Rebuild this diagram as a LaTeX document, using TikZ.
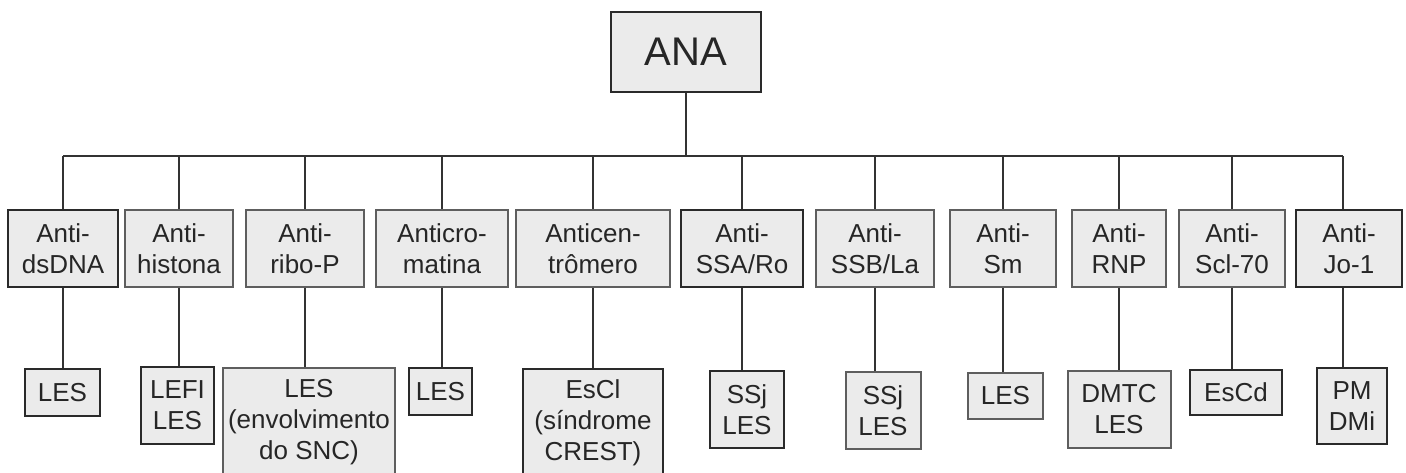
\documentclass[tikz,border=0pt]{standalone}
\usepackage{fontspec}
\setmainfont{Liberation Sans}
\usetikzlibrary{calc}
\definecolor{boxfill}{HTML}{EBEBEB}
\definecolor{edgedark}{HTML}{2A2A2A}
\definecolor{edgelight}{HTML}{5E5E5E}
\definecolor{inkgray}{HTML}{262626}
\definecolor{wiregray}{HTML}{333333}
\tikzset{
  box/.style={rectangle, fill=boxfill, draw=edgelight, line width=2pt,
    inner sep=0pt, align=center, text=inkgray,
    font=\fontsize{26}{31}\selectfont},
  darkbox/.style={box, draw=edgedark},
  rootbox/.style={darkbox, font=\fontsize{40}{48}\selectfont},
  wire/.style={draw=wiregray, line width=2pt}
}
\begin{document}
\begin{tikzpicture}[x=1pt,y=-1pt]
\useasboundingbox (0,0) rectangle (1406,472);
\clip (0,0) rectangle (1406,472);

% root
\node[rootbox, minimum width=150, minimum height=80] (ana) at (686,52) {ANA};

% antibody classes
\node[darkbox, minimum width=110, minimum height=77] (c1)  at (63,248.5)   {Anti-\\dsDNA};
\node[box,     minimum width=108, minimum height=77] (c2)  at (179,248.5)  {Anti-\\histona};
\node[box,     minimum width=118, minimum height=77] (c3)  at (305,248.5)  {Anti-\\ribo-P};
\node[box,     minimum width=132, minimum height=77] (c4)  at (442,248.5)  {Anticro-\\matina};
\node[box,     minimum width=154, minimum height=77] (c5)  at (593,248.5)  {Anticen-\\trômero};
\node[darkbox, minimum width=122, minimum height=77] (c6)  at (742,248.5)  {Anti-\\SSA/Ro};
\node[box,     minimum width=118, minimum height=77] (c7)  at (875,248.5)  {Anti-\\SSB/La};
\node[box,     minimum width=106, minimum height=77] (c8)  at (1003,248.5) {Anti-\\Sm};
\node[box,     minimum width=94,  minimum height=77] (c9)  at (1119,248.5) {Anti-\\RNP};
\node[box,     minimum width=106, minimum height=77] (c10) at (1232,248.5) {Anti-\\Scl-70};
\node[darkbox, minimum width=106, minimum height=77] (c11) at (1349,248.5) {Anti-\\Jo-1};

% associated diseases
\node[darkbox, minimum width=75,  minimum height=47]  (g1)  at (62.5,392.5)  {LES};
\node[darkbox, minimum width=73,  minimum height=77]  (g2)  at (177.5,405.5) {LEFI\\LES};
\node[box,     minimum width=172, minimum height=108] (g3)  at (309,422)     {LES\\(envolvimento\\do SNC)};
\node[darkbox, minimum width=63,  minimum height=47]  (g4)  at (440.5,391.5) {LES};
\node[darkbox, minimum width=140, minimum height=107] (g5)  at (593,422.5)   {EsCl\\(síndrome\\CREST)};
\node[darkbox, minimum width=74,  minimum height=77]  (g6)  at (747,409.5)   {SSj\\LES};
\node[box,     minimum width=75,  minimum height=77]  (g7)  at (883,410.5)   {SSj\\LES};
\node[box,     minimum width=75,  minimum height=46]  (g8)  at (1005.5,396)  {LES};
\node[box,     minimum width=103, minimum height=77]  (g9)  at (1119,409.5)  {DMTC\\LES};
\node[darkbox, minimum width=92,  minimum height=45]  (g10) at (1236,392.5)  {EsCd};
\node[darkbox, minimum width=70,  minimum height=76]  (g11) at (1352,406)    {PM\\DMi};

% horizontal bus under the root
\coordinate (bus) at (686,156);
\draw[wire] (ana.south) -- (ana.south |- bus);
\draw[wire] (c1.north |- bus) -- ($(c11.north |- bus)+(-6,0)$);

% drops to each class and on to its diseases
\foreach \i in {1,...,10} {
  \draw[wire] (c\i.north |- bus) -- (c\i.north);
  \draw[wire] (c\i.south) -- (c\i.south |- g\i.north);
}
\draw[wire] ($(c11.north |- bus)+(-6,0)$) -- ($(c11.north)+(-6,0)$);
\draw[wire] ($(c11.south)+(-6,0)$) -- ($(c11.south |- g11.north)+(-6,0)$);
\end{tikzpicture}
\end{document}
